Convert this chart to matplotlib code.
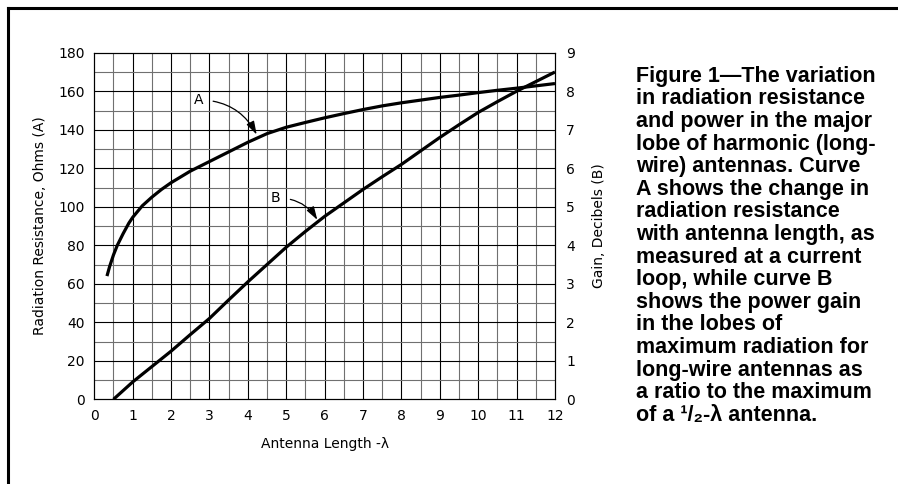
import matplotlib.pyplot as plt
from matplotlib.lines import Line2D

# curve A: radiation resistance (ohms) vs antenna length (wavelengths)
len_a = [0.33, 0.4, 0.5, 0.6, 0.75, 0.9, 1, 1.25, 1.5, 1.75, 2, 2.5, 3, 3.5, 4,
         4.5, 5, 5.5, 6, 6.5, 7, 7.5, 8, 8.5, 9, 9.5, 10, 10.5, 11, 11.5, 12]
res_a = [64, 69, 75, 80, 86, 91.5, 94.5, 100.5, 105, 109, 112.5, 118.5, 123.5, 128.5, 133.5,
         138, 141.3, 143.8, 146.2, 148.4, 150.5, 152.4, 154, 155.4, 156.8, 158, 159.3,
         160.5, 161.6, 162.8, 164]

# curve B: gain (dB) vs antenna length
len_b = [0.5, 1, 1.5, 2, 2.5, 3, 3.5, 4, 4.5, 5, 5.5, 6, 6.5, 7, 7.5, 8, 8.5, 9,
         9.5, 10, 10.5, 11, 11.5, 12]
gain_b = [0, 0.45, 0.85, 1.25, 1.68, 2.1, 2.58, 3.05, 3.5, 3.95, 4.36, 4.75, 5.1, 5.45,
          5.78, 6.1, 6.45, 6.8, 7.13, 7.45, 7.73, 8.0, 8.25, 8.5]

x_ticks = list(range(0, 13))
res_ticks = list(range(0, 181, 20))
gain_ticks = list(range(0, 10))

caption = ("Figure 1\u2014The variation\n"
           "in radiation resistance\n"
           "and power in the major\n"
           "lobe of harmonic (long-\n"
           "wire) antennas. Curve\n"
           "A shows the change in\n"
           "radiation resistance\n"
           "with antenna length, as\n"
           "measured at a current\n"
           "loop, while curve B\n"
           "shows the power gain\n"
           "in the lobes of\n"
           "maximum radiation for\n"
           "long-wire antennas as\n"
           "a ratio to the maximum\n"
           "of a \u00b9/\u2082-\u03bb antenna.")

plt.rcParams['font.family'] = ['DejaVu Sans']

fig = plt.figure(figsize=(8.98, 4.84), dpi=100)
ax = fig.add_axes([0.105, 0.175, 0.513, 0.716])

# grid: half-steps in gray, whole steps in black
for x in [i * 0.5 for i in range(1, 24)]:
    ax.axvline(x, color='black' if x == int(x) else '#707070', lw=0.8, zorder=1)
for y in range(10, 180, 10):
    ax.axhline(y, color='black' if y % 20 == 0 else '#707070', lw=0.8, zorder=1)

ax.plot(len_a, res_a, color='black', lw=2.3, solid_capstyle='butt', zorder=3)

ax.set_xlim(0, 12)
ax.set_ylim(0, 180)
ax.set_xticks(x_ticks)
ax.set_yticks(res_ticks)
ax.tick_params(length=0, labelsize=10, pad=7)
for s in ax.spines.values():
    s.set_linewidth(0.8)
ax.set_xlabel('Antenna Length -\u03bb', fontsize=10, labelpad=10)
ax.set_ylabel('Radiation Resistance, Ohms (A)', fontsize=10, labelpad=8)

ax2 = ax.twinx()
ax2.plot(len_b, gain_b, color='black', lw=2.3, solid_capstyle='butt', zorder=3)
ax2.set_ylim(0, 9)
ax2.set_yticks(gain_ticks)
ax2.tick_params(length=0, labelsize=10, pad=8)
for s in ax2.spines.values():
    s.set_linewidth(0.8)
ax2.set_ylabel('Gain, Decibels (B)', fontsize=10, labelpad=12)

# curve labels with arrows
ax.annotate('A', xy=(4.23, 137.5), xytext=(2.72, 155.5), fontsize=10,
            ha='center', va='center',
            arrowprops=dict(arrowstyle='-|>,head_length=0.8,head_width=0.25',
                            color='black', lw=0.9, shrinkA=5, shrinkB=0,
                            connectionstyle='arc3,rad=-0.3'))
ax2.annotate('B', xy=(5.81, 4.66), xytext=(4.73, 5.22), fontsize=10,
             ha='center', va='center',
             arrowprops=dict(arrowstyle='-|>,head_length=0.8,head_width=0.25',
                             color='black', lw=0.9, shrinkA=5, shrinkB=0,
                             connectionstyle='arc3,rad=-0.3'))

fig.text(0.708, 0.864, caption, fontsize=15.5, fontweight='bold',
         family=['Liberation Sans', 'DejaVu Sans'], ha='left', va='top',
         linespacing=1.10)

# page border (top and left edges)
fig.add_artist(Line2D([8 / 898, 1.0], [1 - 8 / 484, 1 - 8 / 484],
                      transform=fig.transFigure, color='black', lw=2.2))
fig.add_artist(Line2D([8 / 898, 8 / 898], [0.0, 1 - 8 / 484],
                      transform=fig.transFigure, color='black', lw=2.2))

fig.savefig('out.png', dpi=100)
